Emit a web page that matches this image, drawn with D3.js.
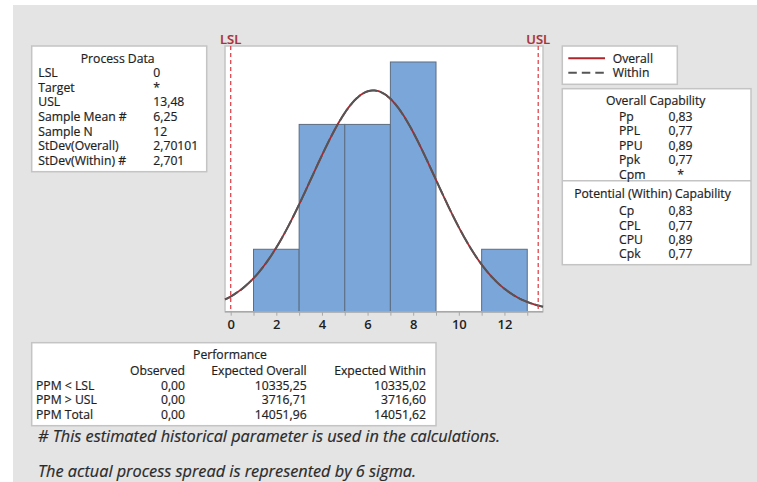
<!DOCTYPE html>
<html>
<head>
<meta charset="utf-8">
<script src="https://cdn.jsdelivr.net/npm/d3@7"></script>
<style>
  body { margin: 0; background: #fff; }
  svg { display: block; font-family: 'Open Sans', sans-serif; }
</style>
</head>
<body>
<div id="chart"></div>
<script>
// histogram bins (class width 2)
const binStarts = [1, 3, 5, 7, 9, 11];
const binCounts = [1, 3, 3, 4, 0, 1];
const binWidth = 2;
const xTicks = [0, 2, 4, 6, 8, 10, 12];

// process statistics
const lsl = 0;
const usl = 13.48;
const sampleMean = 6.25;
const sampleN = 12;
const sdOverall = 2.70101;
const sdWithin = 2.701;

// text tables
const processLabels = ['LSL', 'Target', 'USL', 'Sample Mean #', 'Sample N', 'StDev(Overall)', 'StDev(Within) #'];
const processValues = ['0', '*', '13,48', '6,25', '12', '2,70101', '2,701'];
const overallLabels = ['Pp', 'PPL', 'PPU', 'Ppk', 'Cpm'];
const overallValues = ['0,83', '0,77', '0,89', '0,77', '*'];
const withinLabels = ['Cp', 'CPL', 'CPU', 'Cpk'];
const withinValues = ['0,83', '0,77', '0,89', '0,77'];
const perfHeaders = ['Observed', 'Expected Overall', 'Expected Within'];
const perfLabels = ['PPM < LSL', 'PPM > USL', 'PPM Total'];
const perfObserved = ['0,00', '0,00', '0,00'];
const perfExpOverall = ['10335,25', '3716,71', '14051,96'];
const perfExpWithin = ['10335,02', '3716,60', '14051,62'];
const footnotes = [
  '# This estimated historical parameter is used in the calculations.',
  'The actual process spread is represented by 6 sigma.'
];

const W = 757, H = 482;
const textColor = '#1e1e1e';
const boxStroke = '#c4c4c4';
const overallColor = '#b0242c';
const withinColor = '#555555';
const specColor = '#e0464e';
const fontSize = 12.2;

const svg = d3.select('#chart').append('svg')
  .attr('width', W)
  .attr('height', H);

// panel background
svg.append('rect')
  .attr('x', 13).attr('y', 5)
  .attr('width', W - 13).attr('height', H - 5)
  .attr('fill', '#e4e4e4');

function box(x, y, w, h) {
  svg.append('rect')
    .attr('x', x).attr('y', y)
    .attr('width', w).attr('height', h)
    .attr('fill', '#fff')
    .attr('stroke', boxStroke)
    .attr('stroke-width', 1.5);
}

function label(x, y, txt, anchor, opts) {
  opts = opts || {};
  return svg.append('text')
    .attr('x', x).attr('y', y)
    .attr('dy', '0.35em')
    .attr('text-anchor', anchor || 'start')
    .attr('font-size', opts.size || fontSize)
    .attr('font-weight', opts.weight || 'normal')
    .attr('font-style', opts.style || 'normal')
    .attr('fill', opts.color || textColor)
    .attr('stroke', opts.color || textColor)
    .attr('stroke-width', 0.2)
    .text(txt);
}

// ---- plot area ----
const plot = {left: 225, right: 543, top: 46, bottom: 311.7};
const x = d3.scaleLinear()
  .domain([-0.25, 13.69])
  .range([plot.left, plot.right]);
const y = d3.scaleLinear()
  .domain([0, 4.256])
  .range([plot.bottom, plot.top]);

box(plot.left, plot.top, plot.right - plot.left, plot.bottom - plot.top);

const g = svg.append('g');

g.selectAll('.bar')
  .data(binStarts)
  .enter().append('rect')
  .attr('class', 'bar')
  .attr('x', d => x(d))
  .attr('y', (d, i) => y(binCounts[i]))
  .attr('width', d => x(d + binWidth) - x(d))
  .attr('height', (d, i) => y(0) - y(binCounts[i]))
  .attr('fill', '#7ba6d9')
  .attr('stroke', '#5d6d80')
  .attr('stroke-width', 1)
  .style('display', (d, i) => binCounts[i] > 0 ? null : 'none');

// fitted normal curves, scaled to the histogram counts
function normalPath(sd) {
  const xs = d3.range(0, 201).map(i => x.domain()[0] + i * (x.domain()[1] - x.domain()[0]) / 200);
  const k = sampleN * binWidth / (sd * Math.sqrt(2 * Math.PI));
  return d3.line()
    .x(d => x(d))
    .y(d => y(k * Math.exp(-0.5 * Math.pow((d - sampleMean) / sd, 2))))
    .curve(d3.curveBasis)(xs);
}

g.append('path')
  .attr('d', normalPath(sdOverall))
  .attr('fill', 'none')
  .attr('stroke', overallColor)
  .attr('stroke-width', 1.8);
g.append('path')
  .attr('d', normalPath(sdWithin))
  .attr('fill', 'none')
  .attr('stroke', withinColor)
  .attr('stroke-width', 2)
  .attr('stroke-dasharray', '15,3');

// spec limits
[[lsl, 'LSL'], [usl, 'USL']].forEach(([v, name]) => {
  g.append('line')
    .attr('x1', x(v)).attr('x2', x(v))
    .attr('y1', plot.top).attr('y2', plot.bottom)
    .attr('stroke', specColor)
    .attr('stroke-width', 1.3)
    .attr('stroke-dasharray', '4,3');
  label(x(v), 39, name, 'middle', {size: 13, weight: 600, color: '#a8323a'});
});

// x axis
const axis = svg.append('g')
  .attr('transform', `translate(0, ${plot.bottom})`)
  .call(d3.axisBottom(x)
    .tickValues(d3.range(0, 14))
    .tickSize(4)
    .tickFormat(d => xTicks.includes(d) ? d : ''));
axis.select('.domain').attr('stroke', '#a8a8a8').attr('stroke-width', 1.5)
  .attr('d', `M${plot.left},0H${plot.right}`);
axis.selectAll('.tick line').attr('stroke', '#a8a8a8');
axis.selectAll('.tick text')
  .attr('font-family', 'Open Sans, sans-serif')
  .attr('font-size', 13)
  .attr('font-weight', 600)
  .attr('fill', textColor)
  .attr('y', 8);

// ---- process data ----
box(31.7, 46, 175, 125.7);
label(117.7, 59, 'Process Data', 'middle');
processLabels.forEach((d, i) => {
  label(38.3, 73 + i * 14.6, d);
  label(153.3, 73 + i * 14.6, processValues[i]);
});

// ---- legend ----
box(562.3, 46, 115, 38.3);
svg.append('line')
  .attr('x1', 568.3).attr('x2', 605).attr('y1', 58.3).attr('y2', 58.3)
  .attr('stroke', overallColor).attr('stroke-width', 2);
svg.append('line')
  .attr('x1', 568.3).attr('x2', 605).attr('y1', 72.7).attr('y2', 72.7)
  .attr('stroke', withinColor).attr('stroke-width', 2)
  .attr('stroke-dasharray', '8.5,5');
label(612.7, 58.3, 'Overall');
label(612.7, 72.7, 'Within');

// ---- capability ----
box(562.3, 88.7, 188.7, 176);
svg.append('line')
  .attr('x1', 562.3).attr('x2', 751).attr('y1', 180.7).attr('y2', 180.7)
  .attr('stroke', boxStroke).attr('stroke-width', 1.5);
label(655.7, 101, 'Overall Capability', 'middle');
overallLabels.forEach((d, i) => {
  label(619, 116.3 + i * 14.6, d);
  label(680.5, 116.3 + i * 14.6, overallValues[i], 'middle');
});
label(652.5, 193.3, 'Potential (Within) Capability', 'middle');
withinLabels.forEach((d, i) => {
  label(619, 211 + i * 14.4, d);
  label(680.5, 211 + i * 14.4, withinValues[i], 'middle');
});

// ---- performance ----
box(31.7, 342.7, 404.3, 83);
label(230, 355, 'Performance', 'middle');
const perfCols = [185, 306.7, 426];
perfHeaders.forEach((d, i) => label(perfCols[i], 370.7, d, 'end'));
perfLabels.forEach((d, i) => {
  const yy = 385.7 + i * 14.5;
  label(36, yy, d);
  label(perfCols[0], yy, perfObserved[i], 'end');
  label(perfCols[1], yy, perfExpOverall[i], 'end');
  label(perfCols[2], yy, perfExpWithin[i], 'end');
});

// ---- footnotes ----
footnotes.forEach((d, i) => {
  label(38, 436 + i * 35.7, d, 'start', {size: 16.3, style: 'italic', color: '#2a2a2a'});
});
</script>
</body>
</html>
